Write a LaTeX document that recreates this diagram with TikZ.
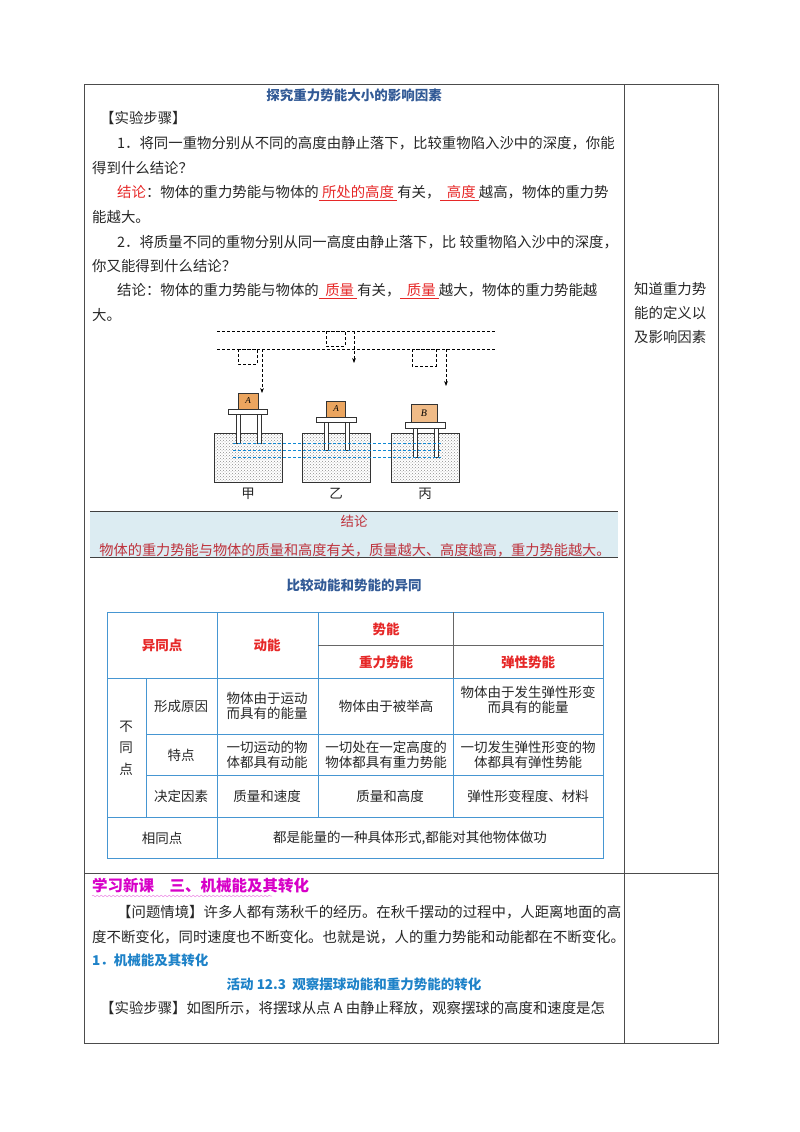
\documentclass[tikz,border=0pt]{standalone}
\usepackage{fontspec}
\setmainfont{Liberation Serif}
\newfontfamily\cjk{Noto Sans CJK SC}
\usetikzlibrary{patterns,decorations.pathmorphing,arrows.meta}
\definecolor{tblue}{RGB}{70,150,210}
\definecolor{hred}{RGB}{230,40,40}
\definecolor{ttl}{RGB}{50,90,150}
\definecolor{lblue}{RGB}{220,236,242}
\definecolor{cred}{RGB}{190,50,60}
\definecolor{mag}{RGB}{215,0,200}
\definecolor{sblue}{RGB}{30,130,200}
\definecolor{borange}{RGB}{235,165,95}
\begin{document}
\begin{tikzpicture}[x=1pt,y=-1pt,
  tx/.style={anchor=west,inner sep=0pt,font=\fontsize{14.4}{16}\selectfont\cjk,text=black!85},
  ts/.style={inner sep=0pt,font=\fontsize{13.5}{15.5}\selectfont\cjk,text=black!85,align=center},
  th/.style={inner sep=0pt,font=\fontsize{13.5}{15.5}\selectfont\cjk\bfseries,text=hred},
  dl/.style={dashed,dash pattern=on 3pt off 2pt,line width=0.6pt},
  sand/.style={draw=black!80,line width=0.7pt,fill=black!8,pattern=crosshatch dots,pattern color=black!45},
  plate/.style={draw=black!80,fill=white,line width=0.7pt},
  blk/.style={draw=black!80,fill=borange,line width=0.7pt}]
\useasboundingbox (0,0) rectangle (800,1132);
% outer frame
\draw[black!70,line width=0.8pt] (84,84) rectangle (718,1043);
\draw[black!70,line width=0.8pt] (624,84) -- (624,1043);
\draw[black!70,line width=0.8pt] (84,873) -- (718,873);

\node[inner sep=0pt,font=\fontsize{13.5}{15}\selectfont\cjk\bfseries,text=ttl] (t1) at (354,95) {探究重力势能大小的影响因素};
\node[tx] (s1) at (100,118) {【实验步骤】};
\node[tx] (l1) at (117,143) {1．将同一重物分别从不同的高度由静止落下，比较重物陷入沙中的深度，你能};
\node[tx] (l2) at (92,168) {得到什么结论？};
\node[tx] (l3) at (117,193) {\textcolor{hred}{结论}：物体的重力势能与物体的\textcolor{hred}{\underline{\ 所处的高度\ }}有关，\textcolor{hred}{\underline{\ \ 高度\ }}越高，物体的重力势};
\node[tx] (l4) at (92,217) {能越大。};
\node[tx] (l5) at (117,242) {2．将质量不同的重物分别从同一高度由静止落下，比\ 较重物陷入沙中的深度，};
\node[tx] (l6) at (92,266) {你又能得到什么结论？};
\node[tx] (l7) at (117,291) {结论：物体的重力势能与物体的\textcolor{hred}{\underline{\ \ 质量\ }}有关，\textcolor{hred}{\underline{\ \ 质量\ }}越大，物体的重力势能越};
\node[tx] (l8) at (92,315) {大。};
\node[tx] (r1) at (634,289) {知道重力势};
\node[tx] (r2) at (634,313) {能的定义以};
\node[tx] (r3) at (634,337) {及影响因素};

% figure
\draw[dl] (217,331) -- (496,331);
\draw[dl] (217,349) -- (496,349);
\draw[dl] (238,349) rectangle (257,364);
\draw[dl] (326,331) rectangle (345,346);
\draw[dl] (412,349) rectangle (436,366);
\draw[dl,-{Stealth[length=5pt]}] (262,349) -- (262,393);
\draw[dl,-{Stealth[length=5pt]}] (354,331) -- (354,363);
\draw[dl,-{Stealth[length=5pt]}] (446,349) -- (446,386);
\draw[sand] (214,433) rectangle (282,482);
\draw[sand] (302,433) rectangle (370,482);
\draw[sand] (391,433) rectangle (459,482);
% legs
\foreach \x/\top/\bot in {236/414/443,257/414/443,324/422/450,345/422/450,413/428/457,434/428/457}
  \draw[plate] (\x,\top) rectangle (\x+4,\bot);
\draw[plate] (228,409) rectangle (267,414);
\draw[plate] (316,417) rectangle (356,422);
\draw[plate] (405,422) rectangle (445,428);
\node[blk,minimum width=20pt,minimum height=16pt,inner sep=0pt,font=\itshape\small] (bA1) at (248,401) {A};
\node[blk,minimum width=19pt,minimum height=16pt,inner sep=0pt,font=\itshape\small] (bA2) at (336,409) {A};
\node[blk,fill=borange!75,minimum width=26pt,minimum height=18pt,inner sep=0pt,font=\itshape] (bB) at (424,413) {B};
\foreach \y in {443,450,457} \draw[dashed,dash pattern=on 3pt off 2pt,cyan!70!blue,line width=0.6pt] (233,\y) -- (442,\y);
\node[ts] (j) at (248,494) {甲};
\node[ts] (y) at (336,494) {乙};
\node[ts] (b) at (425,494) {丙};

% conclusion box
\fill[lblue] (90,511) rectangle (618,557);
\draw[black!75,line width=0.8pt] (90,511) -- (618,511);
\draw[black!75,line width=0.6pt] (90,557) -- (618,557);
\node[inner sep=0pt,font=\fontsize{13.5}{15}\selectfont\cjk,text=cred] (jl) at (354,521) {结论};
\node[inner sep=0pt,font=\fontsize{14.2}{15}\selectfont\cjk,text=cred] (jt) at (355,550) {物体的重力势能与物体的质量和高度有关，质量越大、高度越高，重力势能越大。};
\node[inner sep=0pt,font=\fontsize{13.5}{15}\selectfont\cjk\bfseries,text=ttl] (t2) at (354,585) {比较动能和势能的异同};

% table
\begin{scope}[tblue,line width=0.8pt]
\draw (107,612) rectangle (603,858);
\foreach \y in {678,817} \draw (107,\y) -- (603,\y);
\foreach \y in {734,775} \draw (146,\y) -- (603,\y);
\draw (146,678) -- (146,817);
\draw (217,612) -- (217,858);
\draw (318,612) -- (318,817);
\draw (453,678) -- (453,817);
\end{scope}
\draw[black!60,line width=0.8pt] (318,645) -- (603,645);
\draw[black!60,line width=0.8pt] (453,612) -- (453,678);
\node[th] (h1) at (162,645) {异同点};
\node[th] (h2) at (267,645) {动能};
\node[th] (h3) at (386,629) {势能};
\node[th] (h4) at (386,662) {重力势能};
\node[th] (h5) at (528,662) {弹性势能};
\node[ts] (bt) at (126,748) {不\\[6pt]同\\[6pt]点};
\node[ts] (c1) at (181,706) {形成原因};
\node[ts] (c2) at (181,755) {特点};
\node[ts] (c3) at (181,796) {决定因素};
\node[ts] (c4) at (162,838) {相同点};
\node[ts] (d11) at (267,706) {物体由于运动\\而具有的能量};
\node[ts] (d12) at (386,706) {物体由于被举高};
\node[ts] (d13) at (528,700) {物体由于发生弹性形变\\而具有的能量};
\node[ts] (d21) at (267,755) {一切运动的物\\体都具有动能};
\node[ts] (d22) at (386,755) {一切处在一定高度的\\物体都具有重力势能};
\node[ts] (d23) at (528,755) {一切发生弹性形变的物\\体都具有弹性势能};
\node[ts] (d31) at (267,796) {质量和速度};
\node[ts] (d32) at (390,796) {质量和高度};
\node[ts] (d33) at (528,796) {弹性形变程度、材料};
\node[ts] (d4) at (410,838) {都是能量的一种具体形式,都能对其他物体做功};

% bottom part
\node[anchor=west,inner sep=0pt,font=\fontsize{15.5}{17}\selectfont\cjk\bfseries,text=mag] (h6) at (92,886) {学习新课\quad 三、机械能及其转化};
\draw[mag!50,line width=0.5pt,decorate,decoration={snake,amplitude=0.8pt,segment length=4pt}] (92,896) -- (272,896);
\node[tx] (p1) at (117,912) {【问题情境】许多人都有荡秋千的经历。在秋千摆动的过程中，人距离地面的高};
\node[tx] (p2) at (92,937) {度不断变化，同时速度也不断变化。也就是说，人的重力势能和动能都在不断变化。};
\node[anchor=west,inner sep=0pt,font=\fontsize{13.5}{15}\selectfont\cjk\bfseries,text=sblue] (p3) at (92,960) {1．机械能及其转化};
\node[inner sep=0pt,font=\fontsize{13.5}{15}\selectfont\cjk\bfseries,text=sblue] (p4) at (354,984) {活动 12.3\ \ 观察摆球动能和重力势能的转化};
\node[tx] (p5) at (100,1008) {【实验步骤】如图所示，将摆球从点 A 由静止释放，观察摆球的高度和速度是怎};
\end{tikzpicture}
\end{document}
